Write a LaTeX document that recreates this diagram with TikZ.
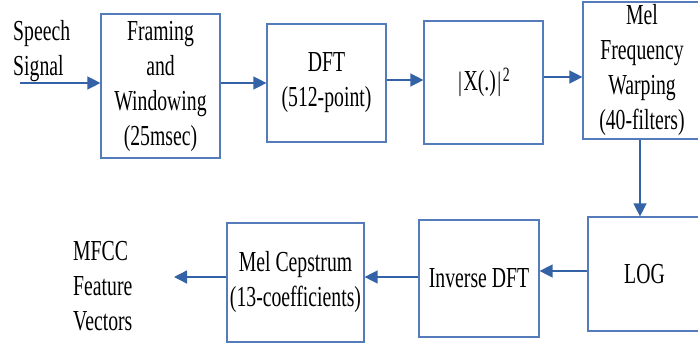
\documentclass[tikz,border=0pt]{standalone}
\usepackage{fontspec}
\setmainfont[FakeStretch=0.68]{Liberation Serif}
\usetikzlibrary{arrows.meta,calc}

\definecolor{boxblue}{RGB}{84,124,186}
\definecolor{flowblue}{RGB}{52,98,166}

\begin{document}
\begin{tikzpicture}[x=1pt,y=-1pt,
  stage/.style={draw=boxblue, line width=1.2pt, align=center, inner sep=0pt,
                font=\fontsize{29}{35}\selectfont},
  caption/.style={align=left, inner sep=0pt, font=\fontsize{29}{35}\selectfont},
  flow/.style={draw=flowblue, line width=1.4pt,
               -{Triangle[length=13pt,width=13pt]}}]
\useasboundingbox (0,0) rectangle (698,345);
\clip (0,0) rectangle (698,345);

% processing stages, top row
\node[stage, minimum width=119pt, minimum height=144pt] (frame) at (160.5,86)
  {Framing\\and\\Windowing\\(25msec)};
\node[stage, minimum width=119pt, minimum height=118pt] (dft) at (326.5,83)
  {DFT\\(512-point)};
\node[stage, minimum width=119pt, minimum height=123pt] (mag) at (483.5,82.5)
  {$|$X(.)$|$\textsuperscript{2}};
\node[stage, minimum width=118pt, minimum height=137pt] (mel) at (642,70.5)
  {Mel\\Frequency\\Warping\\(40-filters)};

% processing stages, bottom row
\node[stage, minimum width=113pt, minimum height=114pt] (log) at (644.5,274)
  {LOG};
\node[stage, minimum width=120pt, minimum height=117pt] (idft) at (479,278.5)
  {Inverse DFT};
\node[stage, minimum width=137pt, minimum height=119pt] (cep) at (295.5,282.5)
  {Mel Cepstrum\\(13-coefficients)};

% input and output labels (anchored at the baseline of their last line)
\node[caption, anchor=base west] (speech) at (13,75) {Speech\\Signal};
\node[caption, anchor=base west] (mfcc) at (73,330) {MFCC\\Feature\\Vectors};

% heights of the individual flow lines
\coordinate (in) at (20,83);
\coordinate (r2) at (0,80);
\coordinate (r3) at (0,77);
\coordinate (c1) at (640,0);
\coordinate (b1) at (0,271);
\coordinate (out) at (174,277);

% signal flow
\draw[flow] (in) -- (in -| frame.west);
\draw[flow] (frame.east |- in) -- (dft.west |- in);
\draw[flow] (dft.east |- r2) -- (mag.west |- r2);
\draw[flow] (mag.east |- r3) -- (mel.west |- r3);
\draw[flow] (mel.south -| c1) -- (log.north -| c1);
\draw[flow] (log.west |- b1) -- (idft.east |- b1);
\draw[flow] (idft.west |- out) -- (cep.east |- out);
\draw[flow] (cep.west |- out) -- (out);
\end{tikzpicture}
\end{document}
